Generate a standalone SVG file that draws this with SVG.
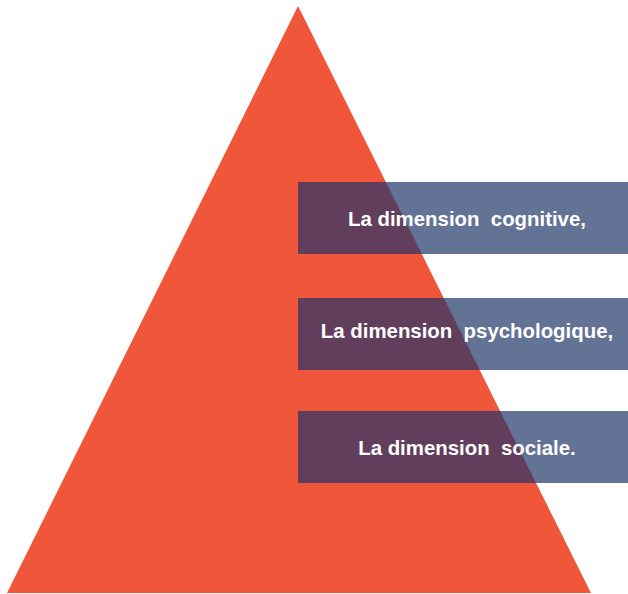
<svg xmlns="http://www.w3.org/2000/svg" width="628" height="594" viewBox="0 0 628 594">
<style>
.box{fill:#627396}
.ov{fill:#613E5C}
.lbl{font-family:"Liberation Sans",Arial,sans-serif;font-weight:bold;font-size:20.4px;fill:#ffffff;text-anchor:middle;white-space:pre}
</style>
<defs>
<clipPath id="tri"><polygon points="298,6 591,593 7,593"/></clipPath>
</defs>
<rect width="628" height="594" fill="#ffffff"/>
<g id="pyramid"><polygon points="298,6 591,593 7,593" fill="#F0573A"/></g>
<g id="connectors"></g>
<g id="n1">
<rect class="box" x="298" y="182" width="330" height="72"/>
<rect class="ov" x="298" y="182" width="330" height="72" clip-path="url(#tri)"/>
<text class="lbl" x="467" y="226" xml:space="preserve">La dimension  cognitive,</text>
</g>
<g id="n2">
<rect class="box" x="298" y="298" width="330" height="72"/>
<rect class="ov" x="298" y="298" width="330" height="72" clip-path="url(#tri)"/>
<text class="lbl" x="467" y="338" xml:space="preserve">La dimension  psychologique,</text>
</g>
<g id="n3">
<rect class="box" x="298" y="411" width="330" height="72"/>
<rect class="ov" x="298" y="411" width="330" height="72" clip-path="url(#tri)"/>
<text class="lbl" x="467" y="455" xml:space="preserve">La dimension  sociale.</text>
</g>
</svg>
